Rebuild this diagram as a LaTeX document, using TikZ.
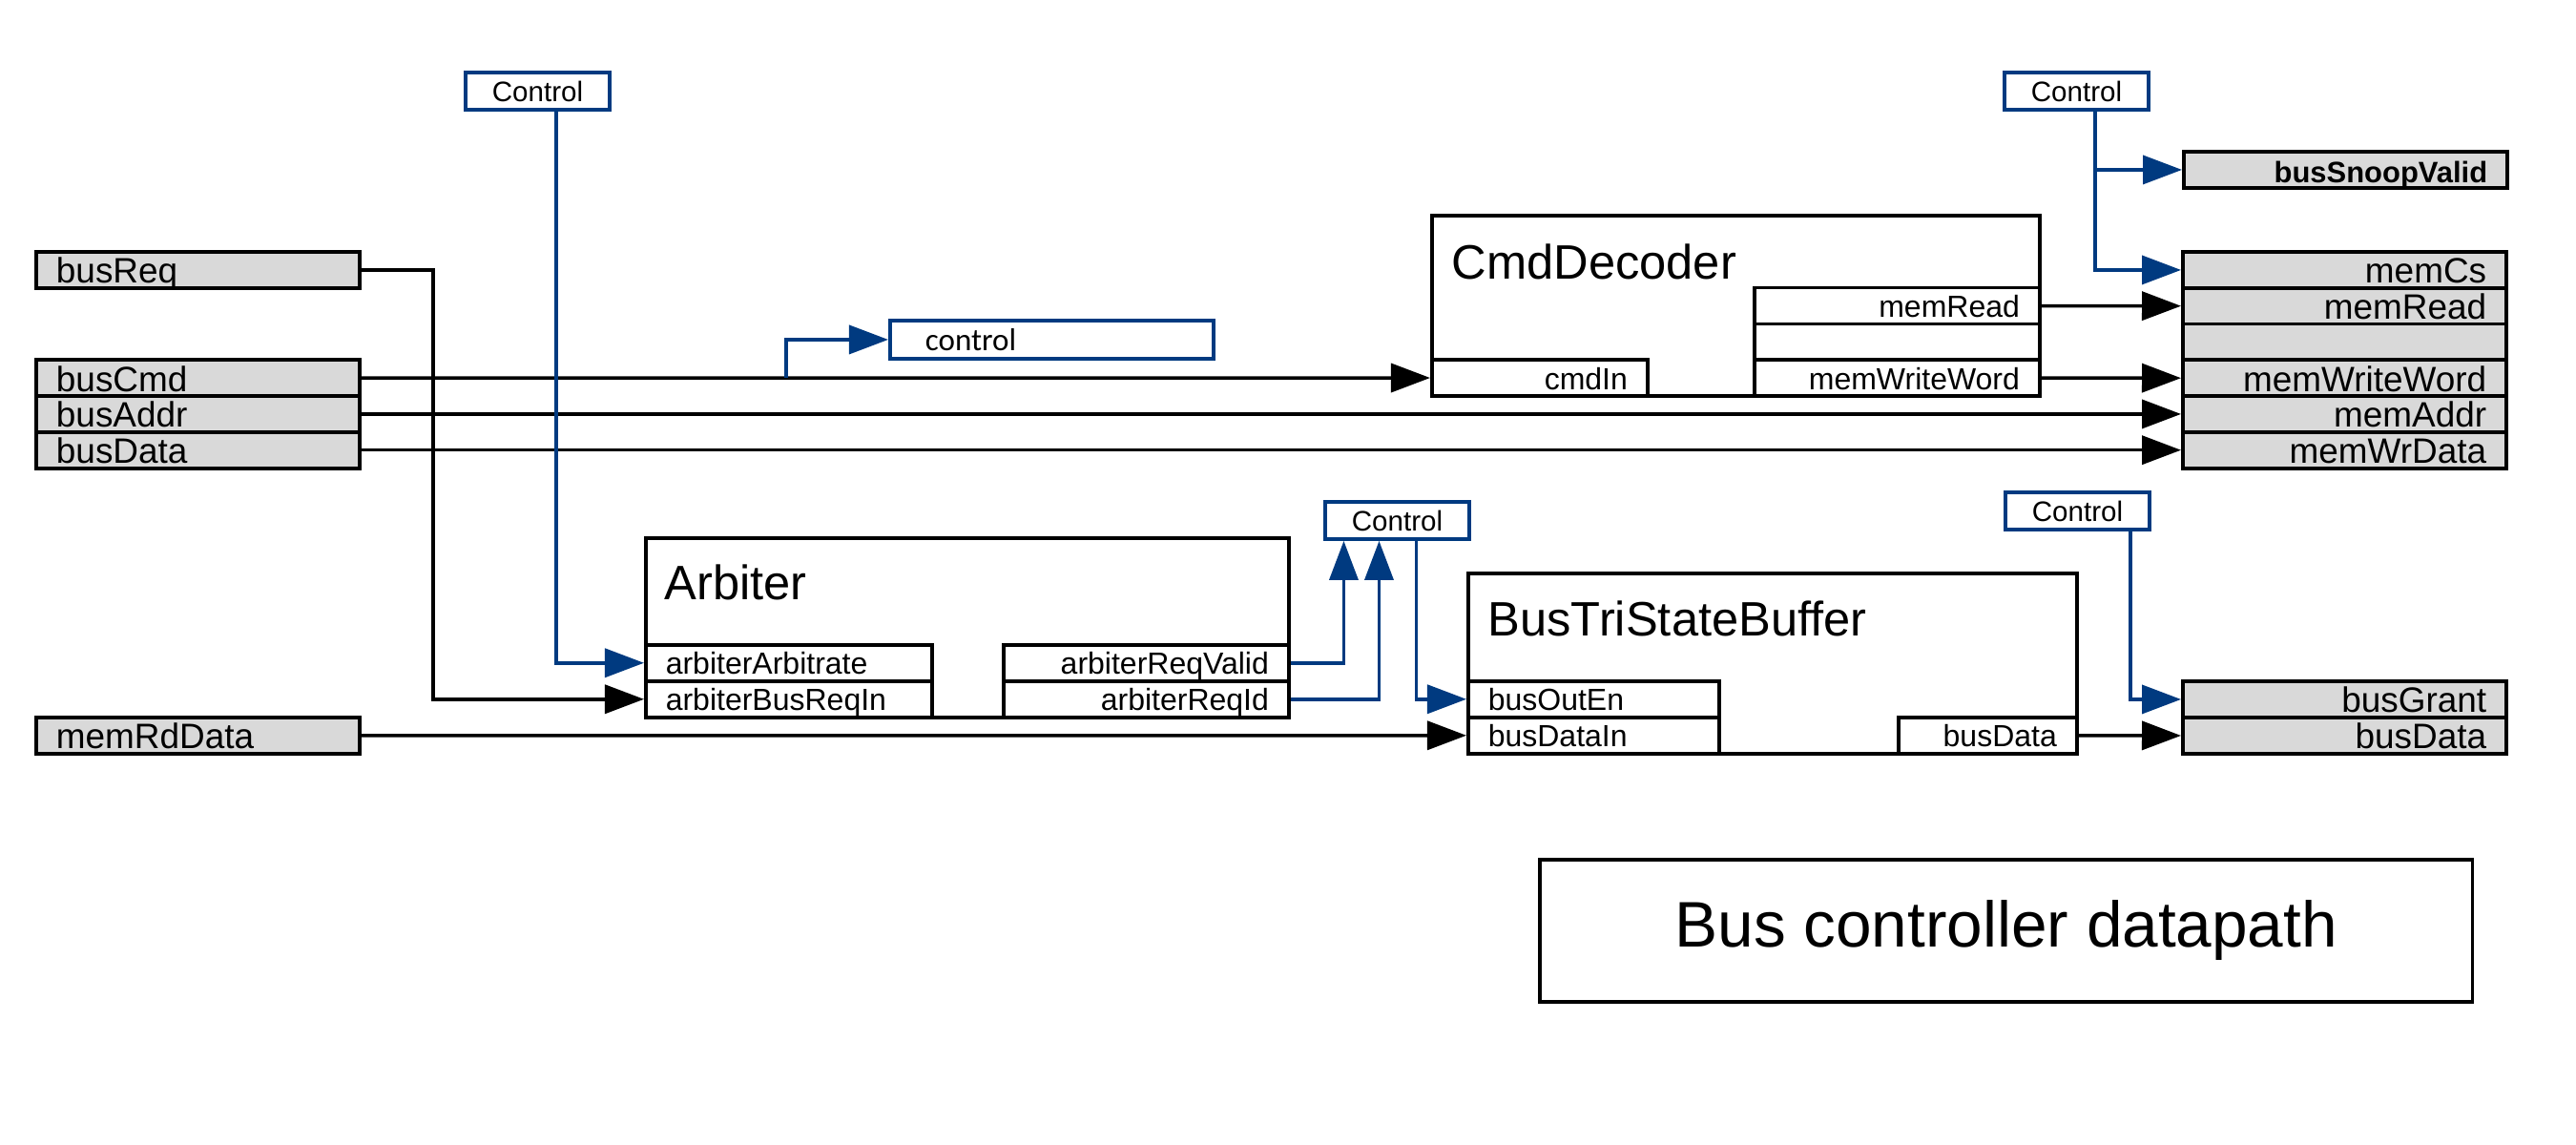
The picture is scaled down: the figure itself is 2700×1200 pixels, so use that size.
\documentclass[tikz,border=0pt]{standalone}
\usepackage{fontspec}
\setmainfont{Liberation Sans}
\newfontfamily\calfont{Carlito}
\usetikzlibrary{arrows.meta}
\definecolor{sigfill}{RGB}{217,217,217}
\definecolor{ctrlblue}{RGB}{0,58,128}
\newcommand{\sigfont}{\fontsize{10.5pt}{12pt}\selectfont}
\newcommand{\portfont}{\fontsize{9.1pt}{11pt}\selectfont}
\newcommand{\ctrlfont}{\fontsize{8.4pt}{10pt}\selectfont}
\newcommand{\titlefont}{\fontsize{14.4pt}{17pt}\selectfont}
\newcommand{\bigfont}{\fontsize{19.2pt}{23pt}\selectfont}

\begin{document}
\begin{tikzpicture}[x=0.01cm, y=-0.01cm,
  sig/.style={draw, fill=sigfill, line width=1.1pt, minimum height=0.38cm, inner ysep=0pt, inner xsep=0.21cm,
    text width=2.97cm, text height=0.28cm, text depth=0pt, font=\sigfont, anchor=north west},
  sigL/.style={sig, align=left},
  sigR/.style={sig, align=right},
  port/.style={draw, line width=1pt, minimum height=0.38cm, inner ysep=0pt, inner xsep=0.21cm,
    text height=0.24cm, text depth=0pt, font=\portfont, anchor=north west},
  block/.style={draw, line width=1.1pt, inner sep=0pt, anchor=north west},
  title/.style={anchor=base west, inner sep=0pt, font=\titlefont},
  ctrlbox/.style={draw=ctrlblue, line width=1.1pt, minimum width=1.51cm, minimum height=0.39cm, inner sep=0pt,
    font=\ctrlfont, anchor=north west},
  wire/.style={line width=1pt, -{Triangle[length=0.41cm,width=0.3cm]}},
  ctrl/.style={wire, draw=ctrlblue}]
\useasboundingbox (0,0) rectangle (2700,1200);

% inputs
\node[sigL] (busReq) at (36,262) {busReq};
\foreach \n [count=\i from 3] in {busCmd,busAddr,busData}
  \node[sigL] (\n) at (36,{262+37.75*\i}) {\n};
\node[sigL] (memRdData) at (36,750) {memRdData};

% outputs
\node[sigR, font=\fontsize{8.8pt}{10pt}\bfseries] (busSnoopValid) at (2287,157) {busSnoopValid};
\foreach \n/\t [count=\i from 0] in {memCs/memCs,memRead/memRead,memSpare/{},memWriteWord/memWriteWord,memAddr/memAddr,memWrData/memWrData}
  \node[sigR] (\n) at (2286,{262+37.75*\i}) {\t};
\node[sigR] (busGrant) at (2286,712) {busGrant};
\node[sigR] (busDataOut) at (2286,750) {busData};

% CmdDecoder
\node[block, minimum width=6.37cm, minimum height=1.89cm] (cmdDec) at (1499,224) {};
\node[title] at ([xshift=0.22cm,yshift=-0.68cm]cmdDec.north west) {CmdDecoder};
\node[port, text width=1.84cm, align=right] (cmdIn) at (1499,375.25) {cmdIn};
\node[port, text width=2.57cm, align=right] (memRdPort) at (1837,299.75) {memRead};
\node[port, text width=2.57cm, align=right] (cmdSpare) at (1837,337.5) {};
\node[port, text width=2.57cm, align=right] (memWrPort) at (1837,375.25) {memWriteWord};

% Arbiter
\node[block, minimum width=6.74cm, minimum height=1.88cm] (arbiter) at (675,562) {};
\node[title] at ([xshift=0.21cm,yshift=-0.66cm]arbiter.north west) {Arbiter};
\node[port, text width=2.58cm, align=left] (arbArbitrate) at (675,674) {arbiterArbitrate};
\node[port, text width=2.58cm, align=left] (arbBusReqIn) at (675,712) {arbiterBusReqIn};
\node[port, text width=2.57cm, align=right] (arbReqValid) at (1050,674) {arbiterReqValid};
\node[port, text width=2.57cm, align=right] (arbReqId) at (1050,712) {arbiterReqId};

% BusTriStateBuffer
\node[block, minimum width=6.38cm, minimum height=1.89cm] (triBuf) at (1537,599) {};
\node[title] at ([xshift=0.22cm,yshift=-0.67cm]triBuf.north west) {BusTriStateBuffer};
\node[port, text width=2.21cm, align=left] (busOutEn) at (1537,712) {busOutEn};
\node[port, text width=2.21cm, align=left] (busDataIn) at (1537,750) {busDataIn};
\node[port, text width=1.45cm, align=right] (busDataPort) at (1988,750) {busData};

% control
\node[ctrlbox] (ctrlArb) at (486,74) {Control};
\node[ctrlbox] (ctrlMem) at (2099,74) {Control};
\node[ctrlbox] (ctrlReq) at (1387,524) {Control};
\node[ctrlbox] (ctrlGrant) at (2100,514) {Control};
\node[draw=ctrlblue, line width=1.1pt, minimum height=0.4cm, inner ysep=0pt, inner xsep=0.37cm, text width=2.65cm,
  align=left, font=\calfont\fontsize{9.4pt}{11pt}\selectfont, anchor=north west] (ctrlCmd) at (931,334) {control};

\node[draw, line width=1.1pt, minimum width=9.77cm, minimum height=1.49cm, anchor=north west, font=\bigfont]
  (caption) at (1612,899) {Bus controller datapath};

% datapath wires
\draw[wire] (busReq.east) -- ++(75,0) |- (arbBusReqIn.west);
\draw[wire] (busCmd.east) -- (cmdIn.west);
\draw[wire] (busAddr.east) -- (memAddr.west);
\draw[wire] (busData.east) -- (memWrData.west);
\draw[wire] (memRdPort.east) -- (memRead.west);
\draw[wire] (memWrPort.east) -- (memWriteWord.west);
\draw[wire] (memRdData.east) -- (busDataIn.west);
\draw[wire] (busDataPort.east) -- (busDataOut.west);

% control wires
\coordinate (cmdTap) at (busCmd.east -| 824,0);
\coordinate (memTap) at ([xshift=0.195cm]ctrlMem.south);
\draw[ctrl] (cmdTap) |- (ctrlCmd.west);
\draw[ctrl] ([xshift=0.195cm]ctrlArb.south) |- (arbArbitrate.west);
\draw[ctrl] (memTap) |- (memCs.west);
\draw[ctrl] (memTap |- busSnoopValid.west) -- (busSnoopValid.west);
\draw[ctrl] (arbReqValid.east) -| ([xshift=-0.56cm]ctrlReq.south);
\draw[ctrl] (arbReqId.east) -| ([xshift=-0.19cm]ctrlReq.south);
\draw[ctrl] ([xshift=0.2cm]ctrlReq.south) |- (busOutEn.west);
\draw[ctrl] ([xshift=0.555cm]ctrlGrant.south) |- (busGrant.west);
\end{tikzpicture}
\end{document}
